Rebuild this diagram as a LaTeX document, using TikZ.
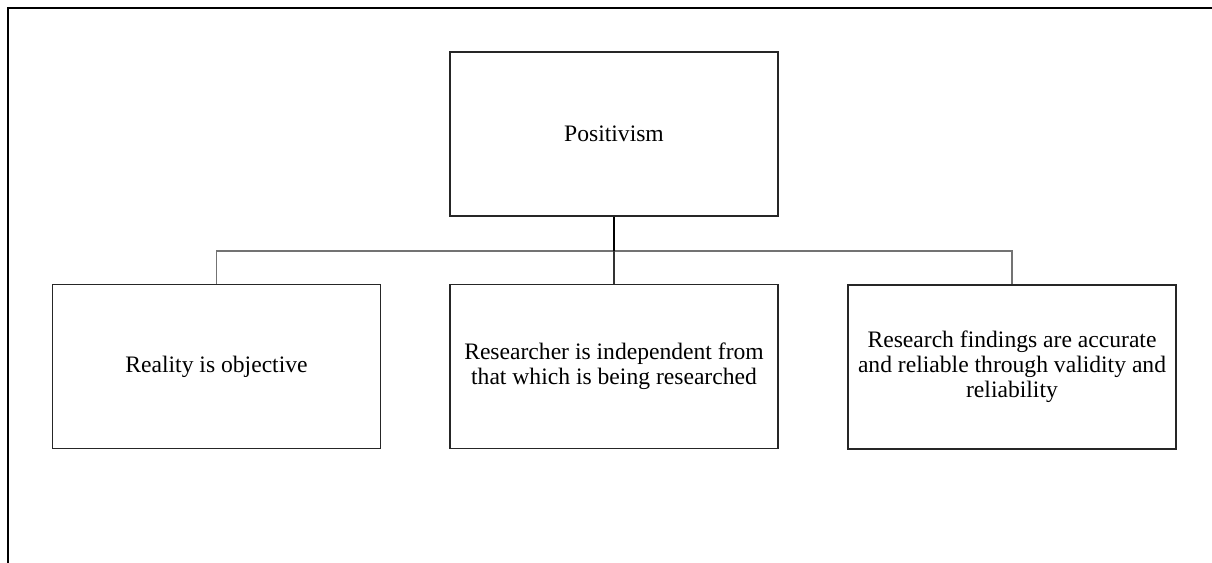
\documentclass[tikz,border=0pt]{standalone}
\usepackage{fontspec}
\setmainfont{Liberation Serif}
\begin{document}
\begin{tikzpicture}[x=0.75pt,y=-0.75pt,
  boxstyle/.style={draw=black!85,line width=1.1pt,minimum width=328*0.75pt,minimum height=164*0.75pt,align=center,inner sep=0pt,font=\fontsize{17.7}{18.6}\selectfont},
  barstyle/.style={draw=black!55,line width=1.4pt},
  stemstyle/.style={draw=black,line width=1.4pt},
  framestyle/.style={draw=black,line width=1.9pt}]
\useasboundingbox (0,0) rectangle (1212,563);
\coordinate (fa) at (8,563);
\coordinate (fb) at (8,8);
\coordinate (fc) at (1212,8);
\draw[framestyle] (fa) -- (fb) -- (fc);
\node[boxstyle] (T) at (614,134) {Positivism};
\node[boxstyle] (L) at (216.5,366.5) {Reality is objective};
\node[boxstyle] (M) at (614,366.5) {Researcher is independent from\\that which is being researched};
\node[boxstyle] (R) at (1012,367) {Research findings are accurate\\and reliable through validity and\\reliability};
\coordinate (J) at (614,251);
\draw[barstyle] (L.north) |- (J) -| (R.north);
\draw[stemstyle] (T.south) -- (J);
\draw[draw=black!80,line width=1.1pt] (J) -- (M.north);
\end{tikzpicture}
\end{document}
